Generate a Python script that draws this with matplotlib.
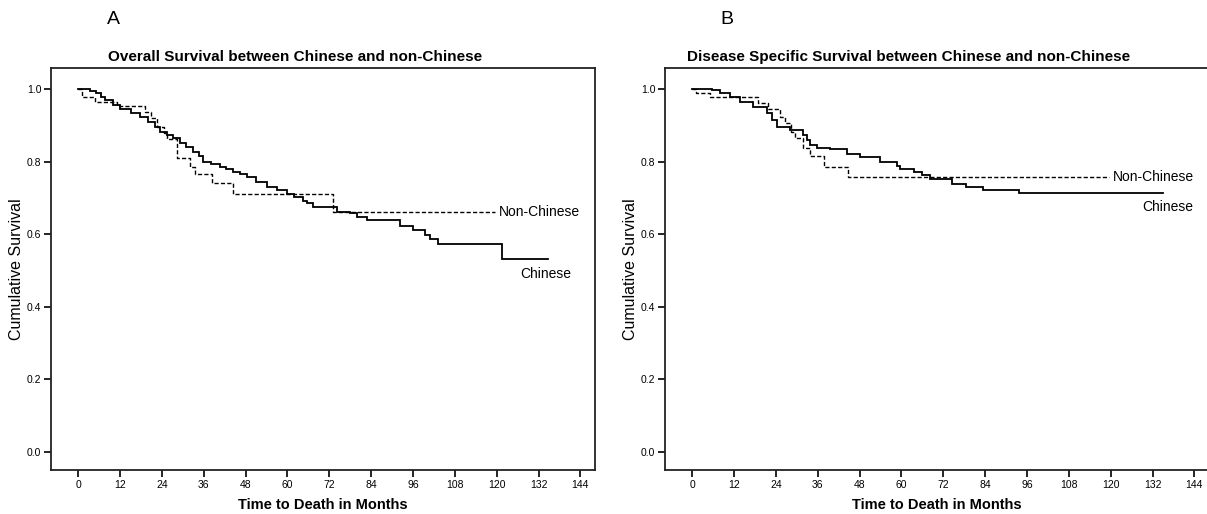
import matplotlib
matplotlib.use("Agg")
import matplotlib.pyplot as plt

plt.rcParams['font.family'] = ['Liberation Sans', 'DejaVu Sans']

# ---------------- data ----------------
x_ticks = [0, 12, 24, 36, 48, 60, 72, 84, 96, 108, 120, 132, 144]
y_ticks = [0.0, 0.2, 0.4, 0.6, 0.8, 1.0]

titles = ["Overall Survival between Chinese and non-Chinese",
          "Disease Specific Survival between Chinese and non-Chinese"]
panel_letters = ["A", "B"]
x_label = "Time to Death in Months"
y_label = "Cumulative Survival"
group_names = ["Non-Chinese", "Chinese"]

# Panel A - overall survival
a_chinese_t = [0, 3.4, 5, 6.5, 7.7, 10, 12, 15, 17.7, 20, 22, 23.4, 25.5, 27.3, 29.2,
               31, 33, 34.5, 35.9, 38, 40.6, 42.5, 44.5, 46.5, 48.3, 51, 54, 57, 59.8,
               62, 64.5, 65.5, 67.4, 74.1, 77.9, 80, 82.7, 92.3, 96.1, 99.5, 101,
               103.3, 121.4, 134.8]
a_chinese_s = [1.0, 0.995, 0.99, 0.98, 0.970, 0.958, 0.947, 0.935, 0.924, 0.910, 0.895,
               0.883, 0.873, 0.865, 0.853, 0.840, 0.828, 0.815, 0.800, 0.793, 0.786,
               0.780, 0.773, 0.765, 0.757, 0.745, 0.731, 0.721, 0.711, 0.704, 0.693,
               0.685, 0.676, 0.662, 0.658, 0.648, 0.639, 0.623, 0.612, 0.598, 0.586,
               0.573, 0.531, 0.531]
a_nonchinese_t = [0, 1, 4.8, 11, 19.1, 21, 22.5, 24.5, 25.4, 28.2, 32, 33.5, 38.3,
                  44.5, 73, 119.5]
a_nonchinese_s = [1.0, 0.980, 0.966, 0.954, 0.938, 0.920, 0.897, 0.880, 0.862, 0.810,
                  0.786, 0.766, 0.741, 0.711, 0.661, 0.661]

# Panel B - disease specific survival
b_chinese_t = [0, 5.6, 8, 10.8, 13.7, 17.5, 21.4, 23, 24.2, 28, 31.9, 33, 33.8, 35.7,
               39.5, 44.3, 48.2, 53.9, 58.7, 59.5, 63.5, 66, 68.3, 74.5, 78.4, 83.5,
               93.7, 134.9]
b_chinese_s = [1.0, 0.997, 0.991, 0.980, 0.966, 0.952, 0.934, 0.915, 0.897, 0.888,
               0.874, 0.860, 0.846, 0.837, 0.834, 0.821, 0.814, 0.800, 0.789, 0.779,
               0.773, 0.763, 0.752, 0.739, 0.731, 0.722, 0.713, 0.713]
b_nonchinese_t = [0, 1, 5, 19, 21.8, 25.1, 26.5, 28.3, 29.5, 31.9, 33.8, 37.9, 44.8,
                  119.5]
b_nonchinese_s = [1.0, 0.989, 0.978, 0.963, 0.945, 0.924, 0.906, 0.883, 0.865, 0.837,
                  0.816, 0.786, 0.759, 0.759]

panels = [
    (a_chinese_t, a_chinese_s, a_nonchinese_t, a_nonchinese_s, (126.7, 0.490)),
    (b_chinese_t, b_chinese_s, b_nonchinese_t, b_nonchinese_s, (129.2, 0.676)),
]

# ---------------- figure ----------------
W, H = 1207, 514
fig = plt.figure(figsize=(W / 100, H / 100), dpi=100)

ax_w = 544 / W
ax_h = 402 / H
ax_b = 44 / H
lefts = [51 / W, 665 / W]

for i, (ct, cs, nt, ns, chin_pos) in enumerate(panels):
    ax = fig.add_axes([lefts[i], ax_b, ax_w, ax_h])
    ax.step(ct, cs, where='post', color='black', lw=1.3, solid_joinstyle='miter')
    ax.step(nt, ns, where='post', color='black', lw=1.0, linestyle=(0, (3, 1.6)))
    ax.text(nt[-1] + 1.0, ns[-1], group_names[0], fontsize=10, va='center', ha='left')
    ax.text(chin_pos[0], chin_pos[1], group_names[1], fontsize=10, va='center', ha='left')

    ax.set_xlim(-7.8, 148.2)
    ax.set_ylim(-0.0505, 1.0588)
    ax.set_xticks(x_ticks)
    ax.set_xticklabels([str(v) for v in x_ticks])
    ax.set_yticks(y_ticks)
    ax.set_yticklabels([f"{v:.1f}" for v in y_ticks])
    ax.tick_params(axis='both', direction='out', length=5, width=1.2, labelsize=7.5,
                   pad=2, colors='black')
    for sp in ax.spines.values():
        sp.set_linewidth(1.3)
        sp.set_color('#222222')
    ax.set_xlabel(x_label, fontsize=10.5, fontweight='bold', labelpad=6)
    ax.set_ylabel(y_label, fontsize=11.5, labelpad=2)
    ax.text(0.448, 1.028, titles[i], transform=ax.transAxes, fontsize=11,
            fontweight='bold', ha='center', va='center')
    fig.text((lefts[i] * W + 62) / W, 1 - 19 / H, panel_letters[i], fontsize=14,
             ha='center', va='center')

fig.savefig("out.png", dpi=100)
